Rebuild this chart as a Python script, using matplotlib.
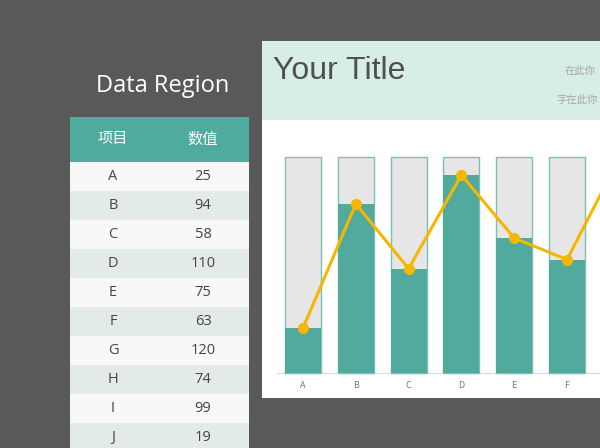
import matplotlib.pyplot as plt
from matplotlib.patches import Rectangle
import numpy as np

plt.rcParams['font.family'] = ['Noto Sans CJK SC', 'DejaVu Sans']

# 数据
categories = ['A', 'B', 'C', 'D', 'E', 'F', 'G', 'H', 'I', 'J']
values = [25, 94, 58, 110, 75, 63, 120, 74, 99, 19]
col_headers = ['项目', '数值']

BG = '#595959'
TEAL = '#52aa9e'
GOLD = '#f5b700'

fig = plt.figure(figsize=(6, 4.48), dpi=100, facecolor=BG)

# pixel-space overlay for the "slide" parts (table, header band)
ov = fig.add_axes([0, 0, 1, 1])
ov.set_xlim(0, 600)
ov.set_ylim(448, 0)
ov.axis('off')
ov.patch.set_alpha(0)

ov.text(163, 86, 'Data Region', color='white', fontsize=17, ha='center', va='center',
        family=['Open Sans', 'DejaVu Sans'])

# table
ov.add_patch(Rectangle((70, 117), 179, 45, color='#4fab9d', lw=0))
ov.text(113, 139, col_headers[0], color='white', fontsize=11, ha='center', va='center')
ov.text(203, 139, col_headers[1], color='white', fontsize=11, ha='center', va='center')
for i, (c, v) in enumerate(zip(categories, values)):
    y0 = 162 + 29 * i
    ov.add_patch(Rectangle((70, y0), 179, 29, lw=0,
                           color='#f8f8f8' if i % 2 == 0 else '#e3ebea'))
    ov.text(113, y0 + 14.5, c, color='#444444', fontsize=10.5, ha='center', va='center',
            family=['Open Sans', 'DejaVu Sans'])
    ov.text(203, y0 + 14.5, str(v), color='#444444', fontsize=10.5, ha='center', va='center',
            family=['Open Sans', 'DejaVu Sans'])

# chart header band
ov.add_patch(Rectangle((262, 41), 338, 79, color='#d6ede8', lw=0))
ov.text(273, 71, 'Your Title', color='#505050', fontsize=23, ha='left', va='center',
        family=['Liberation Sans', 'DejaVu Sans'])
ov.text(565, 71, '在此你', color='#a8a8a8', fontsize=7.5, ha='left', va='center')
ov.text(556, 100, '字在此你', color='#a8a8a8', fontsize=7.5, ha='left', va='center')

# chart
ax = fig.add_axes([262 / 600, 50 / 448, 338 / 600, 278 / 448])
ax.set_facecolor('white')
for s in ax.spines.values():
    s.set_visible(False)
ax.set_xticks([])
ax.set_yticks([])

x = np.arange(len(categories))
vmax = max(values)
ax.bar(x, [vmax] * len(x), width=0.68, color='#e6e6e6', edgecolor='#7cbfb4', lw=1, zorder=1)
ax.bar(x, values, width=0.68, color=TEAL, lw=0, zorder=2)
ax.plot(x, values, color=GOLD, lw=2.2, marker='o', markersize=7, zorder=3)
ax.axhline(0, xmin=0.044, color='#d9d9d9', lw=0.8, zorder=0)
ax.set_xlim(-0.777, 5.625)
ax.set_ylim(-13.9, 140.6)
for xi, c in zip(x, categories):
    if xi > ax.get_xlim()[1]:
        continue
    ax.text(xi, -7, c, color='#777777', fontsize=6.5, ha='center', va='center')

fig.savefig('out.png', dpi=100, facecolor=BG)
